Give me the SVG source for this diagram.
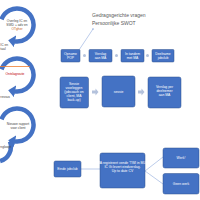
<svg xmlns="http://www.w3.org/2000/svg" width="200" height="200" viewBox="0 0 200 200">
<style>
.box{fill:#4472C4;stroke:#2F528F;stroke-width:0.5}
.t{font-family:"Liberation Sans",Arial,sans-serif;font-size:3.4px;fill:#fff;text-anchor:middle}
.lt{font-family:"Liberation Sans",Arial,sans-serif;font-size:3.3px;fill:#444;text-anchor:middle}
.ls{font-family:"Liberation Sans",Arial,sans-serif;font-size:3.3px;fill:#444}
.arc{fill:none;stroke:#4472C4;stroke-width:4.5}
.ln{stroke:#8FAADC;stroke-width:0.6;fill:none}
.dot{fill:#B4C2DC}
.ga{fill:#B4C2DC}
.nt{font-family:"Liberation Sans",Arial,sans-serif;font-size:5px;fill:#595959}
</style>
<defs>
<marker id="ah" markerUnits="userSpaceOnUse" markerWidth="14" markerHeight="14" refX="1" refY="6" orient="auto">
<path d="M0,0 L7,6 L0,12 Z" fill="#4472C4"/>
</marker>
</defs>
<rect width="200" height="200" fill="#fff"/>
<g id="cycles">
<path class="arc" d="M1.5,19.4 A16.5,16.5 0 1 1 14.1,41.2" marker-end="url(#ah)"/>
<path class="arc" d="M1.5,69.4 A16.5,16.5 0 1 1 14.1,91.2" marker-end="url(#ah)"/>
<path class="arc" d="M1.5,119.4 A16.5,16.5 0 1 1 14.1,141.2" marker-end="url(#ah)"/>
<path class="arc" d="M10,141.5 A15,15 0 0 1 0.1,161.1"/>
<line x1="0" y1="66.5" x2="30" y2="66.5" stroke="#ED7D31" stroke-width="0.8"/>
</g>
<g id="cycle-texts">
<text class="lt" x="17" y="22">Overleg IC en</text>
<text class="lt" x="17" y="26">SWD + adv en</text>
<text class="lt" x="17" y="30" style="fill:#C55A11">OTgher</text>
<text class="ls" x="0.3" y="46">IC en</text>
<text class="ls" x="0.3" y="50">taal</text>
<text class="lt" x="15" y="75" style="fill:#C00000">Ontslagroute</text>
<text class="ls" x="0.3" y="98">ressus</text>
<text class="lt" x="18" y="125">Nieuwe rapport</text>
<text class="lt" x="18" y="129">voor client</text>
<text class="ls" x="0.3" y="148">ngloopt</text>
</g>
<g id="note">
<text class="nt" x="92" y="17">Gedragsgerichte vragen</text>
<text class="nt" x="92" y="25">Persoonlijke SWOT</text>
</g>
<g id="connectors">
<line class="ln" x1="79" y1="50" x2="93" y2="29"/>
<circle cx="93" cy="29" r="0.8" fill="#8FAADC"/>
<circle class="dot" cx="84.5" cy="55.5" r="1.5"/>
<circle class="dot" cx="116.5" cy="55.5" r="1.5"/>
<circle class="dot" cx="147.5" cy="55.5" r="1.5"/>
<path class="ga" d="M92,90.5 H95.5 V88.5 L98.5,92 L95.5,95.5 V93.5 H92 Z"/>
<path class="ga" d="M138,90.5 H141.5 V88.5 L144.5,92 L141.5,95.5 V93.5 H138 Z"/>
<line class="ln" x1="81" y1="169" x2="100" y2="169"/>
<line class="ln" x1="145" y1="171" x2="163" y2="157"/>
<line class="ln" x1="145" y1="171" x2="163" y2="184"/>
</g>
<g id="n-opname"><rect class="box" x="61" y="49.5" width="19" height="12.5" rx="1"/><text class="t" x="70.5" y="55">Opname</text><text class="t" x="70.5" y="59">POP</text></g>
<g id="n-verslag"><rect class="box" x="89" y="49.5" width="23" height="12.5" rx="1"/><text class="t" x="100.5" y="55">Verslag</text><text class="t" x="100.5" y="59">aan MA</text></g>
<g id="n-tandem"><rect class="box" x="121" y="49.5" width="23" height="12.5" rx="1"/><text class="t" x="132.5" y="55">In tandem</text><text class="t" x="132.5" y="59">met MA</text></g>
<g id="n-deelname"><rect class="box" x="152" y="49.5" width="22" height="12.5" rx="1"/><text class="t" x="163" y="55">Deelname</text><text class="t" x="163" y="59">jobclub</text></g>
<g id="n-sessie-voor"><rect class="box" x="60" y="77" width="28.5" height="31" rx="2"/><text class="t" x="74" y="85">Sessie</text><text class="t" x="74" y="89">voorleggen</text><text class="t" x="74" y="93">(jobcoach en</text><text class="t" x="74" y="97">client, MA</text><text class="t" x="74" y="101">back-up)</text></g>
<g id="n-sessie"><rect class="box" x="102" y="76" width="33" height="31" rx="2"/><text class="t" x="118.5" y="93">sessie</text></g>
<g id="n-verslag-per"><rect class="box" x="148" y="77" width="33" height="31" rx="2"/><text class="t" x="164.5" y="88">Verslag per</text><text class="t" x="164.5" y="92">deelnemer</text><text class="t" x="164.5" y="96">aan MA</text></g>
<g id="n-einde"><rect class="box" x="54" y="161" width="27" height="16" rx="1.5"/><text class="t" x="67.5" y="170">Einde jobclub</text></g>
<g id="n-ma"><rect class="box" x="100" y="153" width="45" height="35" rx="2"/><text class="t" x="122.5" y="164">MA registreert vende 'TWI in MLP,</text><text class="t" x="122.5" y="168">IC Gi levert eindverslag.</text><text class="t" x="122.5" y="172">Up to date CV</text></g>
<g id="n-werk"><rect class="box" x="163" y="148" width="36" height="20" rx="2"/><text class="t" x="181" y="159">Werk!</text></g>
<g id="n-geenwerk"><rect class="box" x="163" y="173.5" width="36" height="20.5" rx="2"/><text class="t" x="181" y="185">Geen werk</text></g>
</svg>
